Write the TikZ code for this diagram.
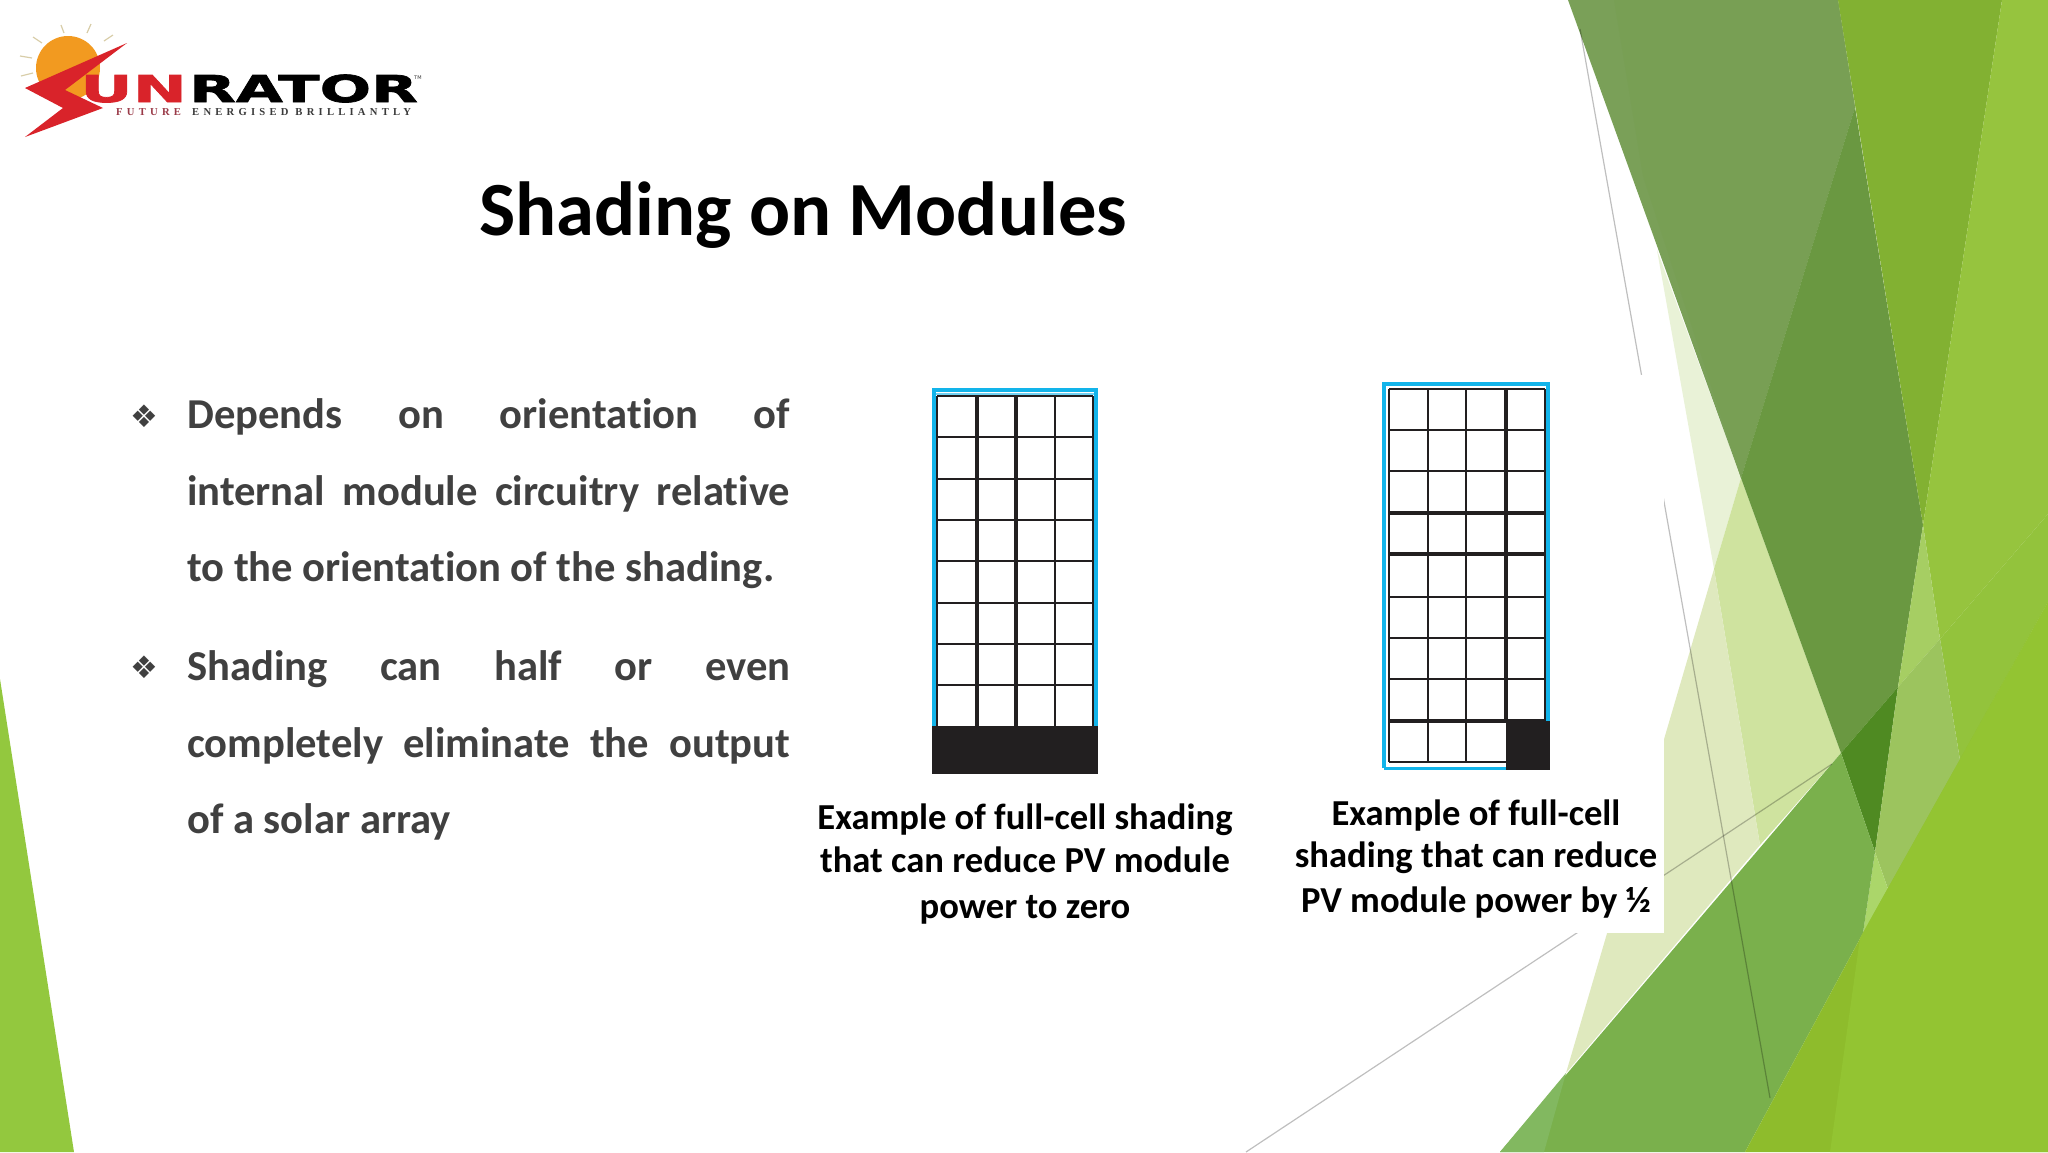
\documentclass[tikz,border=0pt]{standalone}
\usepackage{fontspec}
\setmainfont[RawFeature={-liga}]{Carlito}
\newfontfamily\logounfont[FakeStretch=1.75,FakeBold=2]{DejaVu Sans Bold}
\newfontfamily\logoratorfont[FakeStretch=1.64,FakeBold=2]{DejaVu Sans Bold}
\newfontfamily\logotmfont{DejaVu Sans}
\newfontfamily\tagfont[LetterSpace=40]{Liberation Serif Bold}
\newfontfamily\futurefont[LetterSpace=40]{Liberation Serif Bold}
\newfontfamily\bulletfont{DejaVu Sans}
\definecolor{bodygray}{HTML}{404040}
\definecolor{panelblue}{HTML}{12B4EA}
\definecolor{cellblack}{HTML}{221F20}
\definecolor{sunorange}{HTML}{F29A20}
\definecolor{rayshade}{HTML}{D8CDA8}
\definecolor{boltred}{HTML}{D9232A}
\definecolor{taggray}{HTML}{3A3A3A}
\definecolor{tagred}{HTML}{9A3A48}
\definecolor{cornergreen}{RGB}{147,200,62}
\definecolor{palea}{RGB}{233,242,215}
\definecolor{paleb}{RGB}{207,227,159}
\definecolor{palec}{RGB}{223,233,190}
\definecolor{darka}{RGB}{122,160,88}
\definecolor{darkb}{RGB}{120,159,84}
\definecolor{darkc}{RGB}{106,152,65}
\definecolor{darkd}{RGB}{79,138,34}
\definecolor{brighta}{RGB}{130,177,50}
\definecolor{brightb}{RGB}{150,196,62}
\definecolor{brightc}{RGB}{147,195,60}
\definecolor{brightd}{RGB}{166,206,99}
\definecolor{brighte}{RGB}{156,196,94}
\definecolor{brightf}{RGB}{171,214,106}
\definecolor{lowa}{RGB}{122,176,76}
\definecolor{lowb}{RGB}{130,184,96}
\definecolor{lowc}{RGB}{142,188,44}
\definecolor{lowd}{RGB}{147,196,50}
\tikzset{
  bodyline/.style={anchor=base west,inner sep=0pt,text=bodygray,font=\fontsize{42.6}{50}\bfseries\selectfont},
  bulletmark/.style={inner sep=0pt,text=bodygray,font=\bulletfont\fontsize{31}{36}\selectfont},
  captionline/.style={anchor=base,inner sep=0pt,text=black,font=\fontsize{36.6}{42}\bfseries\selectfont},
  logotext/.style={anchor=base west,inner sep=0pt},
  thinrule/.style={black,opacity=.25,line width=1.2pt},
  cellrule/.style={cellblack,line width=2pt},
  boldrule/.style={cellblack,line width=4pt}
}
\newcommand{\spreadline}[1]{\hbox to 603pt{#1}}
\begin{document}
\begin{tikzpicture}[x=1pt,y=-1pt]
\useasboundingbox (0,0) rectangle (2048,1152);
\fill[white] (0,0) rectangle (2048,1152);
%left corner
\fill[cornergreen] (0,679)--(74,1152)--(0,1152)--cycle;
%pale facets
\fill[palea] (1657,250)--(1741,478)--(1714,569)--cycle;
\fill[paleb] (1741,478)--(1841,753)--(1760,845)--(1714,569)--cycle;
\fill[palec] (1714,569)--(1760,845)--(1566,1073)--cycle;
%dark facets
\fill[darka] (1568,0)--(1838,0)--(1855,107)--(1741,478)--cycle;
\fill[darkb] (1614,0)--(1838,0)--(1855,107)--(1741,478)--(1643,176)--cycle;
\fill[darkc] (1855,107)--(1923,525)--(1898,687)--(1841,753)--(1741,478)--cycle;
\fill[darkd] (1841,753)--(1898,687)--(1875,852)--cycle;
%bright facets
\fill[brighta] (1838,0)--(2002,0)--(1923,525)--cycle;
\fill[brightb] (2002,0)--(2048,0)--(2048,514)--(1940,639)--(1923,525)--cycle;
\fill[brightc] (1940,639)--(2048,514)--(2048,602)--(1960,760)--cycle;
\fill[brightd] (1923,525)--(1940,639)--(1898,687)--cycle;
\fill[brighte] (1940,639)--(1960,760)--(1888,889)--(1875,852)--(1898,687)--cycle;
\fill[brightf] (1875,852)--(1888,889)--(1863,933)--cycle;
%lower facets
\fill[lowa] (1841,753)--(1875,852)--(1863,933)--(1745,1152)--(1500,1152)--cycle;
\fill[lowb] (1500,1152)--(1566,1073)--(1544,1152)--cycle;
\fill[lowc] (2048,602)--(2048,1152)--(1745,1152)--(1863,933)--cycle;
\fill[lowd] (1860,938)--(1830,1152)--(2048,1152)--(2048,602)--cycle;
%thin rules
\coordinate (ruleatop) at (1580,29);
\coordinate (ruleabot) at (1770,1098);
\coordinate (rulebbot) at (1246,1152);
\coordinate (rulebtop) at (1832,764);
\draw[thinrule] (ruleatop)--(ruleabot);
\draw[thinrule] (rulebbot)--(rulebtop);
%white panel
\fill[white] (1300,375) rectangle (1664,933);
%logo
\fill[sunorange] (68,68) circle(32);
\foreach \xa/\ya/\xb/\yb in {33/37/42/43,61/25/64/33,91/24/87/33,113/35/104/41,20/56/32/58,21/76/33/73}
  \draw[rayshade,line width=1.2pt] (\xa,\ya)--(\xb,\yb);
\fill[boltred] (127,43)--(25,88)--(63,108)--(25,137)--(103,108)--(65,90)--cycle;
\node[logotext,text=boltred,font=\logounfont\fontsize{37}{40}\selectfont] (logoun) at (80,102) {UN};
\node[logotext,text=black,font=\logoratorfont\fontsize{37}{40}\selectfont] (logorator) at (189,102) {RATOR};
\node[logotext,text=taggray,font=\logotmfont\fontsize{5}{6}\selectfont] (logotm) at (414,79) {TM};
\node[logotext,text=tagred,font=\futurefont\fontsize{10.6}{12}\selectfont] (logofuture) at (116,115) {FUTURE};
\node[logotext,text=taggray,font=\tagfont\fontsize{10.6}{12}\selectfont] (logotag) at (192,115) {ENERGISED BRILLIANTLY};
%title
\node[anchor=base west,inner sep=0pt,text=black,font=\fontsize{76.6}{90}\bfseries\selectfont] (title) at (479,235) {Shading on Modules};
%bullets
\node[bulletmark] (bulleta) at (144,416) {❖};
\node[bulletmark] (bulletb) at (144,667) {❖};
\node[bodyline] (linea) at (187,428) {\spreadline{Depends\hfill on\hfill orientation\hfill of}};
\node[bodyline] (lineb) at (187,505) {\spreadline{internal\hfill module\hfill circuitry\hfill relative}};
\node[bodyline] (linec) at (187,581) {to the orientation of the shading.};
\node[bodyline] (lined) at (187,680) {\spreadline{Shading\hfill can\hfill half\hfill or\hfill even}};
\node[bodyline] (linee) at (187,757) {\spreadline{completely\hfill eliminate\hfill the\hfill output}};
\node[bodyline] (linef) at (187,833) {of a solar array};
%left module
\begin{scope}
    \draw[panelblue,line width=3.5pt] (934,726)--(934,390)--(1096,390)--(1096,726);
    \draw[panelblue!60,line width=1.5pt] (936,394)--(1094,394);
    \foreach \y in {396,437,479,520,561,603,644,685} \draw[cellrule] (937,\y)--(1093,\y);
    \foreach \x in {937,1055,1093} \draw[cellrule] (\x,396)--(\x,726);
    \foreach \x in {977,1016} \draw[boldrule] (\x,396)--(\x,726);
    \fill[cellblack] (932,726) rectangle (1098,774);
\end{scope}
%right module
\begin{scope}
    \draw[panelblue,line width=3.5pt] (1384,768)--(1384,384)--(1548,384)--(1548,721);
    \draw[panelblue,line width=3pt] (1384,768)--(1506,768);
    \foreach \y in {389,430,471,597,638,679,762} \draw[cellrule] (1389,\y)--(1545,\y);
    \foreach \y in {513,554,721} \draw[boldrule] (1389,\y)--(1545,\y);
    \foreach \x in {1389,1428,1466,1545} \draw[cellrule] (\x,389)--(\x,762);
    \draw[boldrule] (1506,389)--(1506,721);
    \fill[cellblack] (1506,721) rectangle (1550,770);
\end{scope}
%captions
\node[captionline] (capla) at (1025,829) {Example of full-cell shading};
\node[captionline] (caplb) at (1025,872) {that can reduce PV module};
\node[captionline] (caplc) at (1025,918) {power to zero};
\node[captionline] (capra) at (1476,825) {Example of full-cell};
\node[captionline] (caprb) at (1476,867) {shading that can reduce};
\node[captionline] (caprc) at (1476,912) {PV module power by ½};
\end{tikzpicture}
\end{document}
